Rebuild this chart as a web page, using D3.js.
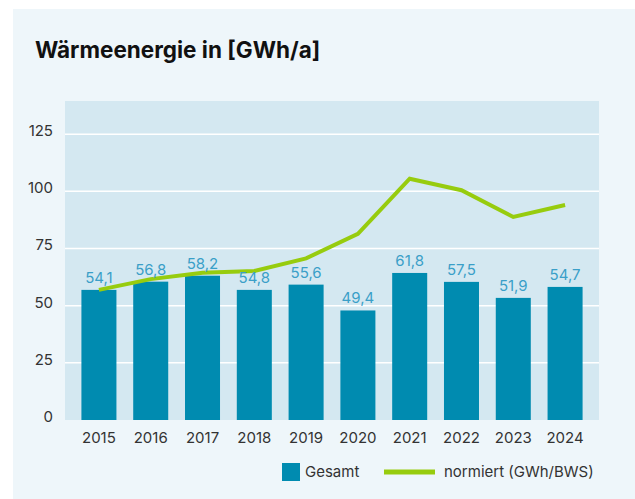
<!DOCTYPE html>
<html>
<head>
<meta charset="utf-8">
<script src="https://cdn.jsdelivr.net/npm/d3@7"></script>
<style>
  body { margin: 0; background: #fff; }
  svg { display: block; font-family: Inter, "Noto Sans", sans-serif; }
</style>
</head>
<body>
<svg width="635" height="499"></svg>
<script>
// dati
const years = ["2015", "2016", "2017", "2018", "2019", "2020", "2021", "2022", "2023", "2024"];
const gesamt = [56.9, 60.5, 63.1, 56.9, 59.2, 47.9, 64.3, 60.4, 53.4, 58.2];
const gesamtLabels = ["54,1", "56,8", "58,2", "54,8", "55,6", "49,4", "61,8", "57,5", "51,9", "54,7"];
const normiert = [56.9, 61.6, 64.4, 65.2, 70.7, 81.4, 105.5, 100.5, 88.8, 94.0];
const yTicks = [0, 25, 50, 75, 100, 125];

const svg = d3.select("svg");
const width = +svg.attr("width");
const height = +svg.attr("height");

// sfondo della scheda
svg.append("rect")
  .attr("x", 13).attr("y", 9)
  .attr("width", width - 13).attr("height", height - 9)
  .attr("fill", "#eef6fa");

// titolo
svg.append("text")
  .attr("x", 35).attr("y", 58)
  .attr("font-size", "22.5px")
  .attr("font-weight", 700)
  .attr("fill", "#111")
  .text("Wärmeenergie in [GWh/a]");

const plot = { left: 65, right: 599, top: 101, bottom: 420 };

const x = d3.scaleBand()
  .domain(years)
  .range([plot.left, plot.right])
  .paddingInner(0.324)
  .paddingOuter(0.317);

const y = d3.scaleLinear()
  .domain([0, 139.5])
  .range([plot.bottom, plot.top]);

// area del grafico
svg.append("rect")
  .attr("x", plot.left).attr("y", plot.top)
  .attr("width", plot.right - plot.left)
  .attr("height", plot.bottom - plot.top)
  .attr("fill", "#d4e8f1");

// griglia
svg.append("g")
  .selectAll("line")
  .data(yTicks.filter(d => d > 0))
  .join("line")
  .attr("x1", plot.left).attr("x2", plot.right)
  .attr("y1", d => y(d)).attr("y2", d => y(d))
  .attr("stroke", "#fff")
  .attr("stroke-width", 1.5);

// asse y
const yAxis = d3.axisLeft(y).tickValues(yTicks).tickSize(0).tickPadding(12);
svg.append("g")
  .attr("transform", `translate(${plot.left}, 0)`)
  .call(yAxis)
  .call(g => g.select(".domain").remove())
  .call(g => g.selectAll("text")
    .attr("font-size", "15px")
    .attr("font-family", "Inter, sans-serif")
    .attr("fill", "#333")
    .attr("dy", "0.1em"));

// asse x
const xAxis = d3.axisBottom(x).tickSize(0).tickPadding(12);
svg.append("g")
  .attr("transform", `translate(0, ${plot.bottom})`)
  .call(xAxis)
  .call(g => g.select(".domain").remove())
  .call(g => g.selectAll("text")
    .attr("font-size", "15px")
    .attr("font-family", "Inter, sans-serif")
    .attr("fill", "#333"));

// barre
svg.append("g")
  .selectAll("rect")
  .data(gesamt)
  .join("rect")
  .attr("x", (d, i) => x(years[i]))
  .attr("width", x.bandwidth())
  .attr("y", d => y(d))
  .attr("height", d => y(0) - y(d))
  .attr("fill", "#008bb0");

// linea normiert
const line = d3.line()
  .x((d, i) => x(years[i]) + x.bandwidth() / 2)
  .y(d => y(d));

svg.append("path")
  .datum(normiert)
  .attr("d", line)
  .attr("fill", "none")
  .attr("stroke", "#97cc0e")
  .attr("stroke-width", 4)
  .attr("stroke-linejoin", "miter");

// etichette dei valori
svg.append("g")
  .selectAll("text")
  .data(gesamt)
  .join("text")
  .attr("x", (d, i) => x(years[i]) + x.bandwidth() / 2)
  .attr("y", d => y(d) - 7)
  .attr("text-anchor", "middle")
  .attr("font-size", "15px")
  .attr("fill", "#3a9fc8")
  .text((d, i) => gesamtLabels[i]);

// legenda
const legend = svg.append("g");
legend.append("rect")
  .attr("x", 282).attr("y", 463)
  .attr("width", 18).attr("height", 18)
  .attr("fill", "#008bb0");
legend.append("text")
  .attr("x", 305).attr("y", 477)
  .attr("font-size", "15px")
  .attr("fill", "#333")
  .text("Gesamt");
legend.append("line")
  .attr("x1", 384).attr("x2", 435)
  .attr("y1", 472).attr("y2", 472)
  .attr("stroke", "#97cc0e")
  .attr("stroke-width", 5);
legend.append("text")
  .attr("x", 444).attr("y", 477)
  .attr("font-size", "15px")
  .attr("fill", "#333")
  .text("normiert (GWh/BWS)");
</script>
</body>
</html>
